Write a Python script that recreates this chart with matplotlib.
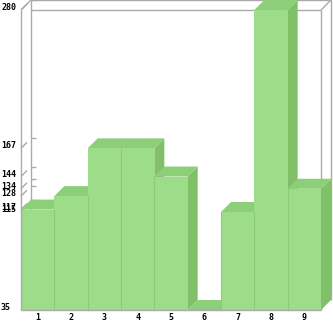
import matplotlib
matplotlib.use("Agg")
import matplotlib.pyplot as plt
from matplotlib.patches import Polygon
import matplotlib.transforms as mtransforms

categories = ["1", "2", "3", "4", "5", "6", "7", "8", "9"]
values = [117, 128, 167, 167, 144, 35, 115, 280, 134]
y_min, y_max = 35, 280
tick_values = sorted(set(values))

W, H = 333, 321
fig = plt.figure(figsize=(W / 100, H / 100), dpi=100)
# front face of plot box in pixels: x 21..321, y 10..310 (from top)
ax = fig.add_axes([21 / W, 11 / H, 300 / W, 300 / H])
n = len(values)
ax.set_xlim(0.5, n + 0.5)
ax.set_ylim(y_min, y_max)
ax.axis("off")

# depth offset of 10 px in data units
px_x = (n) / 300.0
px_y = (y_max - y_min) / 300.0
dx = 10 * px_x
dy = 10 * px_y

grid_c = "#aaaaaa"
lw = 1.0

def line(xs, ys, **kw):
    ax.plot(xs, ys, color=kw.pop("color", grid_c), lw=kw.pop("lw", lw),
            clip_on=False, solid_capstyle="butt", **kw)

x0, x1 = 0.5, n + 0.5
# back wall
line([x0 + dx, x0 + dx], [y_min + dy, y_max + dy], zorder=1)
line([x0 + dx, x1 + dx], [y_max + dy, y_max + dy], zorder=1)
line([x1 + dx, x1 + dx], [y_min + dy, y_max + dy], zorder=1)
line([x0 + dx, x1], [y_max, y_max], zorder=1)
# diagonals at top
line([x0, x0 + dx], [y_max, y_max + dy], zorder=1)
line([x1, x1 + dx], [y_max, y_max + dy], zorder=1)
# back wall ticks
for v in tick_values:
    line([x0 + dx, x0 + dx + 5 * px_x], [v + dy, v + dy], zorder=1)
    line([x0, x0 + 6 * px_x], [v, v + 6 * px_y], zorder=1)

# front right vertical (behind bars)
line([x1, x1], [y_min, y_max], zorder=1)

front_c = "#9ddd8a"
top_c = "#8dcf78"
side_c = "#80c068"
edge_c = "#8bcb77"

xs = list(range(1, n + 1))
z = 2
for i, (x, v) in enumerate(zip(xs, values)):
    l, r = x - 0.5, x + 0.5
    side = Polygon([(r, y_min), (r + dx, y_min + dy), (r + dx, v + dy), (r, v)],
                   closed=True, facecolor=side_c, edgecolor="none", zorder=z, clip_on=False)
    ax.add_patch(side)
    top = Polygon([(l, v), (l + dx, v + dy), (r + dx, v + dy), (r, v)],
                  closed=True, facecolor=top_c, edgecolor="none", zorder=z + 0.1, clip_on=False)
    ax.add_patch(top)
    ax.bar([x], [v - y_min], bottom=y_min, width=1.0, color=front_c,
           edgecolor="none", zorder=z + 0.2, clip_on=False)
    if i > 0 and v > y_min:
        ax.plot([l, l], [y_min, min(v, values[i - 1]) if values[i - 1] > y_min else v],
                color=edge_c, lw=0.8, zorder=z + 0.3, clip_on=False)
    z += 1

# bottom front line
line([x0, x1], [y_min, y_min], zorder=100)
line([x0, x0], [y_min, y_max], zorder=100)

# labels
font = dict(family="DejaVu Sans Mono", fontweight="bold", fontsize=6, color="#000000")
ytr = mtransforms.blended_transform_factory(fig.transFigure, ax.transData)
ytr = mtransforms.offset_copy(ytr, fig=fig, x=0, y=2.5, units="dots")
for v in tick_values:
    ax.text(1 / W, v, str(v), transform=ytr, ha="left", va="center", **font)

xtr = mtransforms.offset_copy(ax.transData, fig=fig, x=0, y=-7, units="dots")
for x, c in zip(xs, categories):
    ax.text(x, y_min, c, transform=xtr, ha="center", va="center", **font)

fig.savefig("out.png", dpi=100)
